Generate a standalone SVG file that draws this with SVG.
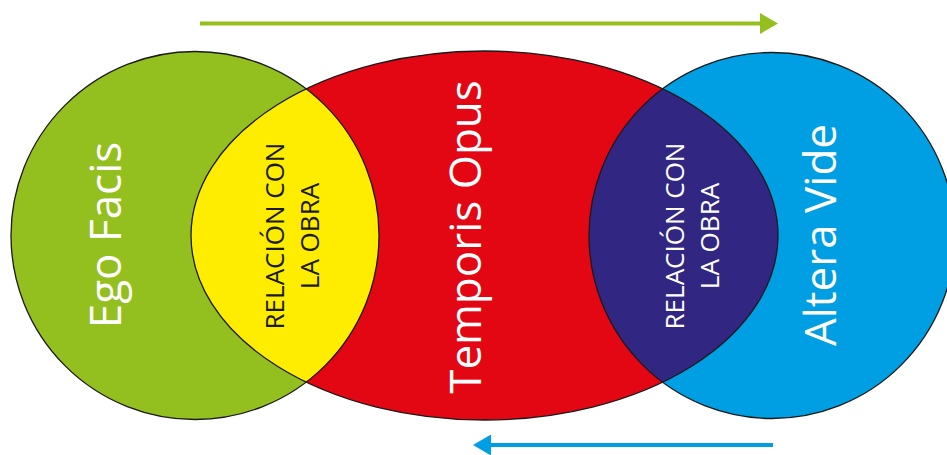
<svg xmlns="http://www.w3.org/2000/svg" width="947" height="455" viewBox="0 0 947 455">
  <style>
    .outline { fill: none; stroke: #1a1a1a; stroke-width: 1.3; }
    .title { font-family: "Open Sans", "Noto Sans", sans-serif; font-size: 44px; fill: #ffffff; text-anchor: middle; }
    .rel { font-family: "Open Sans", "Noto Sans", sans-serif; font-size: 26px; text-anchor: middle; }
  </style>
  <defs>
    <clipPath id="clip-opus">
      <ellipse cx="484.5" cy="235.5" rx="293.5" ry="184.5"/>
    </clipPath>
    <marker id="head-green" viewBox="0 0 18 21" refX="0" refY="10.5" markerWidth="18" markerHeight="21" markerUnits="userSpaceOnUse" orient="auto">
      <path d="M0,0 L18,10.5 L0,21 Z" fill="#93c01f"/>
    </marker>
    <marker id="head-blue" viewBox="0 0 18 21" refX="0" refY="10.5" markerWidth="18" markerHeight="21" markerUnits="userSpaceOnUse" orient="auto">
      <path d="M0,0 L18,10.5 L0,21 Z" fill="#009fe3"/>
    </marker>
  </defs>

  <!-- direction arrows -->
  <g id="connectors">
    <line x1="200" y1="23.5" x2="760" y2="23.5" stroke="#93c01f" stroke-width="4" marker-end="url(#head-green)"/>
    <line x1="773" y1="445" x2="491" y2="445" stroke="#009fe3" stroke-width="4" marker-end="url(#head-blue)"/>
  </g>

  <g id="ego-facis">
    <circle cx="195" cy="235.5" r="184" fill="#93c01f"/>
  </g>
  <g id="altera-vide">
    <circle cx="772" cy="235.5" r="183" fill="#009fe3"/>
  </g>
  <g id="temporis-opus">
    <ellipse cx="484.5" cy="235.5" rx="293.5" ry="184.5" fill="#e30613"/>
  </g>
  <g id="relacion-left">
    <circle cx="195" cy="235.5" r="184" fill="#ffed00" clip-path="url(#clip-opus)"/>
  </g>
  <g id="relacion-right">
    <circle cx="772" cy="235.5" r="183" fill="#312783" clip-path="url(#clip-opus)"/>
  </g>

  <!-- outlines drawn over all fills -->
  <g id="outlines">
    <circle class="outline" cx="195" cy="235.5" r="184"/>
    <circle class="outline" cx="772" cy="235.5" r="183"/>
    <ellipse class="outline" cx="484.5" cy="235.5" rx="293.5" ry="184.5"/>
  </g>

  <!-- labels -->
  <text class="title" transform="translate(121 235) rotate(-90)">Ego Facis</text>
  <text class="title" transform="translate(481 237) rotate(-90)">Temporis Opus</text>
  <text class="title" transform="translate(836 235) rotate(-90)">Altera Vide</text>
  <text class="rel" fill="#1a1a1a" transform="translate(284 236) rotate(-90)"><tspan x="0" y="0">RELACIÓN CON</tspan><tspan x="0" y="35">LA OBRA</tspan></text>
  <text class="rel" fill="#ffffff" transform="translate(684 236) rotate(-90)"><tspan x="0" y="0">RELACIÓN CON</tspan><tspan x="0" y="35">LA OBRA</tspan></text>
</svg>
